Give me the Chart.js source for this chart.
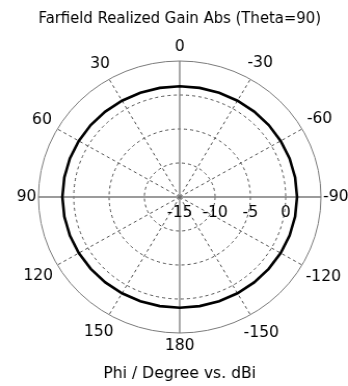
<!DOCTYPE html>
<html>
<head>
<meta charset="utf-8">
<script src="https://cdn.jsdelivr.net/npm/chart.js@4/dist/chart.umd.min.js"></script>
<style>
  html, body { margin: 0; padding: 0; background: #fff; overflow: hidden; }
  #wrap { width: 348px; height: 386px; overflow: hidden; }
  #c { display: block; transform: scaleX(1.0388); transform-origin: 0 0; }
</style>
</head>
<body>
<div id="wrap"><canvas id="c" width="335" height="386"></canvas></div>
<script>
// Phi angles (degrees), listed clockwise starting from the top of the plot
const phiDeg = [0, -10, -20, -30, -40, -50, -60, -70, -80, -90, -100, -110, -120, -130, -140, -150, -160, -170,
                180, 170, 160, 150, 140, 130, 120, 110, 100, 90, 80, 70, 60, 50, 40, 30, 20, 10];
// Realized gain (dBi) at each phi, theta = 90
const gainDbi = [1.28, 1.29, 1.31, 1.35, 1.40, 1.45, 1.50, 1.55, 1.59, 1.61, 1.59, 1.55, 1.50, 1.44, 1.39, 1.35, 1.31, 1.29,
                 1.28, 1.29, 1.31, 1.35, 1.39, 1.44, 1.50, 1.55, 1.59, 1.61, 1.59, 1.55, 1.50, 1.45, 1.40, 1.35, 1.31, 1.29];
// Radial (dBi) tick labels
const radialTicks = [-15, -10, -5, 0];
const radialMin = -15;
const radialMax = 5;

const titleText = 'Farfield Realized Gain Abs (Theta=90)';
const axisTitle = 'Phi / Degree vs. dBi';

const FONT = '"DejaVu Sans", Tahoma, sans-serif';

// Angular and radial labels placed through the radial scale
const polarText = {
  id: 'polarText',
  afterDraw(chart) {
    const s = chart.scales.r;
    const ctx = chart.ctx;
    ctx.save();
    ctx.font = '15px ' + FONT;
    ctx.fillStyle = '#000';
    ctx.textAlign = 'center';
    ctx.textBaseline = 'middle';
    const R = s.drawingArea;
    phiDeg.forEach((phi, i) => {
      if (phi % 30 !== 0) return;
      const text = String(phi);
      const w = ctx.measureText(text).width;
      const h = 11;
      const a = s.getIndexAngle(i);
      const sx = Math.abs(Math.sin(a));
      const cy = Math.abs(Math.cos(a));
      // labels beside the horizontal axis sit a little closer to the rim
      const gap = 8 - 6 * Math.pow(sx, 8);
      const d = R + gap + sx * w / 2 + cy * h / 2;
      const p = s.getPointPosition(i, d);
      ctx.fillText(text, p.x, p.y);
    });
    radialTicks.forEach(v => {
      const x = s.xCenter + s.getDistanceFromCenterForValue(v);
      ctx.fillText(String(v), x, s.yCenter + 16);
    });
    ctx.restore();
  }
};

const isAxis = i => phiDeg[i] % 90 === 0;
const isMajor = i => phiDeg[i] % 30 === 0;

new Chart(document.getElementById('c'), {
  type: 'radar',
  data: {
    labels: phiDeg.map(String),
    datasets: [{
      data: gainDbi,
      borderColor: '#000',
      borderWidth: 2.6,
      pointRadius: 0,
      fill: false,
      tension: 0
    }]
  },
  options: {
    responsive: false,
    animation: false,
    devicePixelRatio: 1,
    layout: { padding: { left: 37, right: 26, top: 0, bottom: 0 } },
    plugins: {
      legend: { display: false },
      tooltip: { enabled: false },
      title: {
        display: true, text: titleText, color: '#000',
        font: { family: FONT, size: 15, weight: 'normal' },
        padding: { top: 10, bottom: 33 }
      },
      subtitle: {
        display: true, position: 'bottom', text: axisTitle, color: '#000',
        font: { family: FONT, size: 15, weight: 'normal' },
        padding: { top: 32, bottom: 3 }
      }
    },
    scales: {
      r: {
        min: radialMin,
        max: radialMax,
        startAngle: 0,
        ticks: { stepSize: 5, display: false },
        pointLabels: { display: false },
        grid: {
          circular: true,
          lineWidth: 1,
          color: c => c.tick.value === radialMax ? '#7a7a7a' : (c.tick.value === radialMin ? 'rgba(0,0,0,0)' : '#505050'),
          borderDash: c => c.tick.value === radialMax ? [] : [3, 3]
        },
        border: {
          dash: c => c.tick.value === radialMax ? [] : [3, 3]
        },
        angleLines: {
          display: true,
          color: c => isAxis(c.index) ? '#7a7a7a' : '#505050',
          lineWidth: c => isMajor(c.index) ? (isAxis(c.index) ? 1.3 : 1) : 0,
          borderDash: c => isAxis(c.index) ? [] : [3, 3]
        }
      }
    }
  },
  plugins: [polarText]
});
</script>
</body>
</html>
